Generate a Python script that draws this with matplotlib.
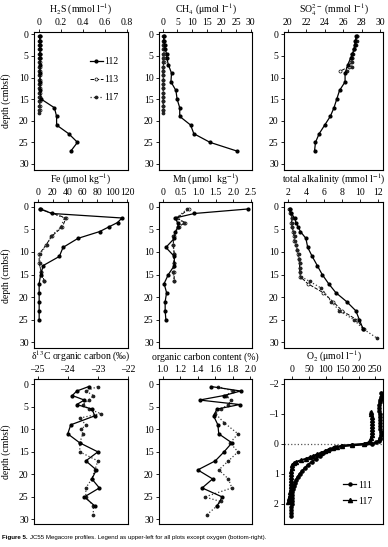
import matplotlib
matplotlib.use('Agg')
import matplotlib.pyplot as plt
from matplotlib.lines import Line2D

plt.rcParams['font.family'] = ['Liberation Serif', 'DejaVu Serif']
plt.rcParams['mathtext.fontset'] = 'stix'
plt.rcParams['axes.linewidth'] = 0.8
plt.rcParams['axes.unicode_minus'] = True

# ---------------- data ----------------
# depths (cm below seafloor)
D112 = [0.5, 1.5, 2.5, 3.5, 4.5, 5.5, 7, 9, 11, 13, 15, 17, 19, 21, 23, 25, 27]
D_fine = [0.5, 1.5, 2.5, 3.5, 4.5, 5.5, 6.5, 7.5, 8.5, 9.5, 10.5, 11.5, 12.5,
          13.5, 14.5, 15.5, 16.5, 17.5]
D_fine117 = [0.5, 1.5, 2.5, 3.5, 4.5, 5.5, 6.5, 7.5, 8.5, 9.5, 10.5, 11.5, 12.5,
             13.5, 14.5, 15.5, 16.5, 17.5, 18.3]

# H2S (mmol/l)
h2s_112 = [0.01, 0.01, 0.01, 0.01, 0.01, 0.01, 0.01, 0.01, 0.01, 0.01, 0.02,
           0.14, 0.16, 0.16, 0.27, 0.35, 0.29]
h2s_113 = [0.005, 0.005, 0.005, 0.005, 0.005, 0.005, 0.005, 0.005, 0.005, 0.005,
           0.005, 0.005, 0.005, 0.005, 0.01, 0.01, 0.005, 0.005]
h2s_117 = [0.0, 0.0, 0.0, 0.0, 0.0, 0.0, 0.0, 0.0, 0.0, 0.0, 0.0, 0.0, 0.0,
           0.0, 0.0, 0.0, 0.0, 0.0, 0.0]

# CH4 (umol/l)
ch4_112 = [0.3, 0.5, 0.7, 0.9, 1.3, 1.4, 1.9, 3.0, 2.8, 4.5, 4.9, 5.8, 5.8,
           9.5, 10.6, 16.1, 25.2]
ch4_113 = [0.3, 0.4, 0.4, 0.5, 0.4, 0.3, 0.3, 0.2, 0.2, 0.2, 0.2, 0.2, 0.2,
           0.2, 0.2, 0.2, 0.2, 0.2]
ch4_117 = [0.1, 0.1, 0.2, 0.2, 0.2, 0.1, 0.1, 0.1, 0.1, 0.1, 0.1, 0.1, 0.1,
           0.1, 0.1, 0.1, 0.1, 0.1, 0.1]

# SO4 (mmol/l)
D_so4 = [0.5, 1.5, 2.5, 3.5, 4.5, 5.5, 6.5, 7.5, 8.5]
so4_112 = [27.4, 27.3, 27.25, 27.15, 27.0, 26.8, 26.5, 26.2, 26.2, 25.6, 25.3,
           25.0, 24.6, 24.0, 23.4, 23.0, 22.9]
so4_113 = [27.5, 27.4, 27.3, 27.2, 27.0, 26.9, 26.8, 26.6, 25.7]
so4_117 = [27.5, 27.45, 27.35, 27.2, 27.1, 26.9, 27.0, 26.9, 26.4]

# Fe (umol/kg)
D112_fe = [0.5, 1.5, 2.5, 3.5, 4.5, 5.5, 7, 9, 11, 13, 15, 17, 19, 21, 23, 25]
D_fe = [0.5, 2.5, 4.5, 6.5, 8.5, 10.5, 12.5, 14.5, 16.5]
fe_112 = [3, 19, 113, 107, 95, 83, 54, 34, 29, 7.5, 4, 2, 2, 2, 2, 2]
fe_113 = [3, 38, 33, 19, 11, 2, 2, 5, 9]
fe_117 = [4, 36, 31, 18, 12, 3, 3, 4, 8]

# Mn (umol/kg)
D_mn = [0.5, 2.5, 3.5, 4.5, 6.5, 8.5, 10.5, 12.5, 14.5, 16.5]
mn_112 = [2.43, 0.9, 0.35, 0.42, 0.44, 0.36, 0.33, 0.09, 0.33, 0.33, 0.16,
          0.04, 0.11, 0.07, 0.07, 0.09]
mn_113 = [0.75, 0.40, 0.63, 0.45, 0.32, 0.30, 0.33, 0.31, 0.32, 0.33]
mn_117 = [0.70, 0.38, 0.60, 0.42, 0.30, 0.30, 0.32, 0.33, 0.30, 0.32]

# total alkalinity (mmol/l)
alk_112 = [2.2, 2.4, 2.75, 2.9, 3.15, 3.4, 4.0, 4.2, 4.7, 5.25, 5.8, 6.5, 7.3,
           8.5, 9.5, 9.9, 10.3]
D_alk113 = [0.5, 1.5, 2.5, 3.5, 4.5, 5.5, 6.5, 7.5, 8.5, 9.5, 10.5, 11.5, 12.5,
            13.5, 14.5, 15.5, 17, 19, 21, 23, 25, 27]
alk_113 = [2.1, 2.3, 2.5, 2.4, 2.5, 2.6, 2.7, 2.7, 2.9, 3.0, 3.1, 3.2, 3.3, 3.3,
           3.3, 3.4, 4.2, 5.9, 7.0, 8.0, 9.6, 10.4]
D_alk117 = [0.5, 1.5, 2.5, 3.5, 4.5, 5.5, 6.5, 7.5, 8.5, 9.5, 10.5, 11.5, 12.5,
            13.5, 14.5, 15.5, 16.5, 18, 21, 23, 25, 27, 29]
alk_117 = [2.2, 2.35, 2.45, 2.5, 2.45, 2.65, 2.75, 2.8, 2.95, 3.05, 3.2, 3.25,
           3.35, 3.4, 3.35, 3.5, 4.4, 5.7, 6.8, 7.7, 9.3, 10.3, 11.8]

# d13C organic carbon (permil)
d13c_112 = [-23.3, -23.7, -23.85, -23.45, -23.7, -23.2, -23.1, -23.9, -24.0,
            -23.6, -23.0, -23.4, -23.05, -23.2, -22.95, -23.45, -23.1]
D_d13c = [0.5, 1.5, 2.5, 3.5, 4.5, 5.5, 6.5, 7.5, 9, 10, 11, 13, 15, 17, 19,
          21, 23, 25, 27, 29]
d13c_117 = [-23.0, -23.4, -23.15, -23.3, -23.5, -23.3, -22.9, -23.6, -23.4,
            -23.55, -23.5, -23.6, -23.6, -23.0, -23.1, -23.2, -23.4, -23.4,
            -23.15, -23.15]

# organic carbon content (%)
orgc_112 = [1.55, 1.89, 1.70, 1.42, 1.88, 1.62, 1.58, 1.63, 1.64, 1.79, 1.70,
            1.60, 1.40, 1.57, 1.45, 1.68, 1.62]
D_orgc = [0.5, 1.5, 2.5, 3.5, 4.5, 5.5, 6.5, 8.5, 11, 13, 15, 17, 19, 21, 23,
          25, 26, 27, 29]
orgc_117 = [1.63, 1.80, 1.72, 1.78, 1.75, 1.66, 1.60, 1.70, 1.86, 1.77, 1.86,
            1.75, 1.64, 1.75, 1.79, 1.48, 1.66, 1.62, 1.50]

# O2 (umol/l), depth in cm (negative = above interface)
o2_depth_111 = [-1.70, -1.65, -1.60, -1.55, -1.50, -1.45, -1.40, -1.30, -1.20,
                -1.10, -1.00, -0.90, -0.80, -0.70, -0.60, -0.50, -0.40, -0.30,
                -0.20, -0.15, -0.10, -0.05, 0.00, 0.02, 0.05, 0.08, 0.12, 0.18,
                0.25, 0.32, 0.40, 0.50, 0.60, 0.70, 0.80, 0.90, 1.00, 1.10,
                1.20, 1.30, 1.40, 1.50, 1.60, 1.70, 1.80, 1.90, 2.00, 2.10,
                2.20, 2.30, 2.40]
o2_111 = [268, 270, 270, 268, 266, 264, 263, 262, 262, 262, 263, 263, 264, 264,
          265, 265, 266, 266, 265, 263, 260, 252, 240, 220, 180, 150, 130, 115,
          102, 92, 82, 70, 58, 47, 38, 30, 22, 16, 11, 7, 4, 2, 0, -1, -2, -2,
          -2, -3, -3, -3, -3]
o2_depth_117 = [-1.05, -1.00, -0.90, -0.80, -0.70, -0.60, -0.50, -0.40, -0.30,
                -0.20, -0.10, -0.05, 0.00, 0.03, 0.06, 0.10, 0.15, 0.20, 0.25,
                0.30, 0.35, 0.40, 0.45, 0.50, 0.55, 0.60, 0.65, 0.70, 0.80,
                0.90, 1.00, 1.10, 1.20, 1.30, 1.40, 1.50, 1.60, 1.70, 1.80,
                1.90, 1.95]
o2_117 = [236, 238, 239, 240, 240, 241, 241, 241, 240, 238, 235, 230, 215, 180,
          150, 135, 122, 108, 97, 85, 74, 63, 52, 40, 25, 12, 4, 0, -2, -3, -3,
          -3, -4, -4, -5, -5, -6, -7, -9, -11, -12]

# axis ticks / labels
depth_ticks = [0, 5, 10, 15, 20, 25, 30]
h2s_ticks = [0, 0.2, 0.4, 0.6, 0.8]
h2s_labels = ['0', '0.2', '0.4', '0.6', '0.8']
ch4_ticks = [0, 5, 10, 15, 20, 25, 30]
so4_ticks = [20, 22, 24, 26, 28, 30]
fe_ticks = [0, 20, 40, 60, 80, 100, 120]
mn_ticks = [0, 0.5, 1.0, 1.5, 2.0, 2.5]
mn_labels = ['0', '0.5', '1.0', '1.5', '2.0', '2.5']
alk_ticks = [2, 4, 6, 8, 10, 12]
d13c_ticks = [-25, -24, -23, -22]
d13c_labels = ['\u201325', '\u201324', '\u201323', '\u201322']
orgc_ticks = [1.0, 1.2, 1.4, 1.6, 1.8, 2.0]
orgc_labels = ['1.0', '1.2', '1.4', '1.6', '1.8', '2.0']
o2_ticks = [0, 50, 100, 150, 200, 250]
o2_depth_ticks = [-2, -1, 0, 1, 2]
o2_depth_labels = ['\u20132', '\u20131', '0', '1', '2']

# ---------------- figure ----------------
W, H = 388, 547
fig = plt.figure(figsize=(W / 100, H / 100), dpi=100)


def add_ax(left, right, top, bottom):
    return fig.add_axes([left / W, 1 - bottom / H, (right - left) / W, (bottom - top) / H])


cols = [(34.3, 128), (159.3, 252), (284.3, 383)]
rows = [(32.3, 170), (202.3, 348.3), (379.3, 524)]
ylims = [(31.4, -0.46), (31.3, -0.97), (31.0, -1.1)]

S112 = dict(color='black', ls='-', lw=0.9, marker='o', ms=2.0, mfc='black', mec='black')
S113 = dict(color='black', ls='--', lw=0.7, marker='o', ms=2.2, mfc='white', mec='black', mew=0.5)
S117 = dict(color='#3a3a3a', ls=':', lw=0.9, marker='o', ms=1.7, mfc='#222', mec='#222')
FS = 7


def setup(ax, xlim, ylim, xticks, xlabels, label, yticks=depth_ticks, ylabels=None):
    ax.xaxis.tick_top()
    ax.xaxis.set_label_position('top')
    ax.set_xlim(*xlim)
    ax.set_ylim(*ylim)
    ax.set_xticks(xticks)
    ax.set_xticklabels(xlabels if xlabels is not None else [str(t) for t in xticks])
    ax.set_yticks(yticks)
    if ylabels is not None:
        ax.set_yticklabels(ylabels)
    ax.tick_params(direction='out', length=2.5, width=0.6, labelsize=FS, pad=1.5)
    ax.set_xlabel(label, fontsize=FS, labelpad=3.5)


panels = {}
for r in range(3):
    for c in range(3):
        panels[(r, c)] = add_ax(cols[c][0], cols[c][1], rows[r][0], rows[r][1])

# Row 1
ax = panels[(0, 0)]
ax.plot(h2s_113, D_fine, **S113)
ax.plot(h2s_117, D_fine117, **S117)
ax.plot(h2s_112, D112, **S112)
setup(ax, (-0.043, 0.81), ylims[0], h2s_ticks, h2s_labels, r'H$_2$S (mmol l$^{-1}$)')
handles = [Line2D([], [], **S112), Line2D([], [], **S113), Line2D([], [], **S117)]
ax.legend(handles, ['112', '113', '117'], loc='upper left', frameon=False,
          bbox_to_anchor=(90 / W, 1 - 57 / H), bbox_transform=fig.transFigure,
          fontsize=FS, handlelength=1.3, handletextpad=0.2, labelspacing=0.95,
          borderpad=0, borderaxespad=0, numpoints=1)

ax = panels[(0, 1)]
ax.plot(ch4_113, D_fine, **S113)
ax.plot(ch4_117, D_fine117, **S117)
ax.plot(ch4_112, D112, **S112)
setup(ax, (-1.16, 30.4), ylims[0], ch4_ticks, None, r'CH$_4$ ($\mathrm{\mu}$mol l$^{-1}$)')

ax = panels[(0, 2)]
ax.plot(so4_113, D_so4, **S113)
ax.plot(so4_117, D_so4, **S117)
ax.plot(so4_112, D112, **S112)
setup(ax, (19.63, 30.3), ylims[0], so4_ticks, None, r'SO$_4^{2-}$ (mmol l$^{-1}$)')

# Row 2
ax = panels[(1, 0)]
ax.plot(fe_113, D_fe, **S113)
ax.plot(fe_117, D_fe, **S117)
ax.plot(fe_112, D112_fe, **S112)
setup(ax, (-4.5, 121), ylims[1], fe_ticks, None, r'Fe ($\mathrm{\mu}$mol kg$^{-1}$)')

ax = panels[(1, 1)]
ax.plot(mn_113, D_mn, **S113)
ax.plot(mn_117, D_mn, **S117)
ax.plot(mn_112, D112_fe, **S112)
setup(ax, (-0.096, 2.53), ylims[1], mn_ticks, mn_labels, r'Mn ($\mathrm{\mu}$mol  kg$^{-1}$)')

ax = panels[(1, 2)]
ax.plot(alk_113, D_alk113, **S113)
ax.plot(alk_117, D_alk117, **S117)
ax.plot(alk_112, D112, **S112)
setup(ax, (1.62, 12.5), ylims[1], alk_ticks, None, r'total alkalinity (mmol l$^{-1}$)')

# Row 3
ax = panels[(2, 0)]
ax.plot(d13c_117, D_d13c, **S117)
ax.plot(d13c_112, D112, **S112)
setup(ax, (-25.11, -22.0), ylims[2], d13c_ticks, d13c_labels,
      '\u03b4$^{13}$C organic carbon (\u2030)')

ax = panels[(2, 1)]
ax.plot(orgc_117, D_orgc, **S117)
ax.plot(orgc_112, D112, **S112)
setup(ax, (0.96, 2.02), ylims[2], orgc_ticks, orgc_labels, 'organic carbon content (%)')

ax = panels[(2, 2)]
S111o = dict(color='black', ls='-', lw=1.4, marker='o', ms=2.3, mfc='black', mec='black')
S117o = dict(color='black', ls='-', lw=1.4, marker='^', ms=2.9, mfc='black', mec='black')
ax.axhline(0, color='#555555', ls=':', lw=0.9, zorder=1)
ax.plot(o2_111, o2_depth_111, **S111o)
ax.plot(o2_117, o2_depth_117, **S117o)
setup(ax, (-24, 273), (2.67, -2.15), o2_ticks, None, r'O$_2$ ($\mathrm{\mu}$mol l$^{-1}$)',
      yticks=o2_depth_ticks, ylabels=o2_depth_labels)
S111l = dict(color='black', ls='-', lw=0.9, marker='o', ms=2.2, mfc='black', mec='black')
S117l = dict(color='black', ls='-', lw=0.9, marker='^', ms=3.0, mfc='black', mec='black')
ax.legend([Line2D([], [], **S111l), Line2D([], [], **S117l)], ['111', '117'],
          loc='upper left', frameon=False,
          bbox_to_anchor=(343 / W, 1 - 480.5 / H), bbox_transform=fig.transFigure,
          fontsize=FS, handlelength=1.35, handletextpad=0.2, labelspacing=0.75,
          borderpad=0, borderaxespad=0, numpoints=1)

# depth labels
for r in range(3):
    ax = panels[(r, 0)]
    ax.set_ylabel('depth (cmbsf)', fontsize=FS)
    ax.yaxis.set_label_coords((11 - cols[0][0]) / (cols[0][1] - cols[0][0]), 0.5)

# caption
cap_family = ['Liberation Sans Narrow', 'Liberation Sans', 'DejaVu Sans']
renderer = fig.canvas.get_renderer()
rest = 'JC55 Megacore profiles. Legend as upper-left for all plots except oxygen (bottom-right).'
t1 = fig.text(2 / W, 1 - 537 / H, 'Figure 5.', fontsize=5.0, weight='bold',
              family=cap_family, va='center', ha='left')
t2 = fig.text(50 / W, 1 - 537 / H, rest, fontsize=5.0, family=cap_family,
              va='center', ha='left')
w_total = t1.get_window_extent(renderer).width + t2.get_window_extent(renderer).width + 3
fs_cap = 5.0 * 272.0 / w_total
t1.set_fontsize(fs_cap)
t2.set_fontsize(fs_cap)
bb1 = t1.get_window_extent(renderer)
t2.set_x((bb1.x1 + 2.5) / W)

fig.savefig('out.png', dpi=100)
